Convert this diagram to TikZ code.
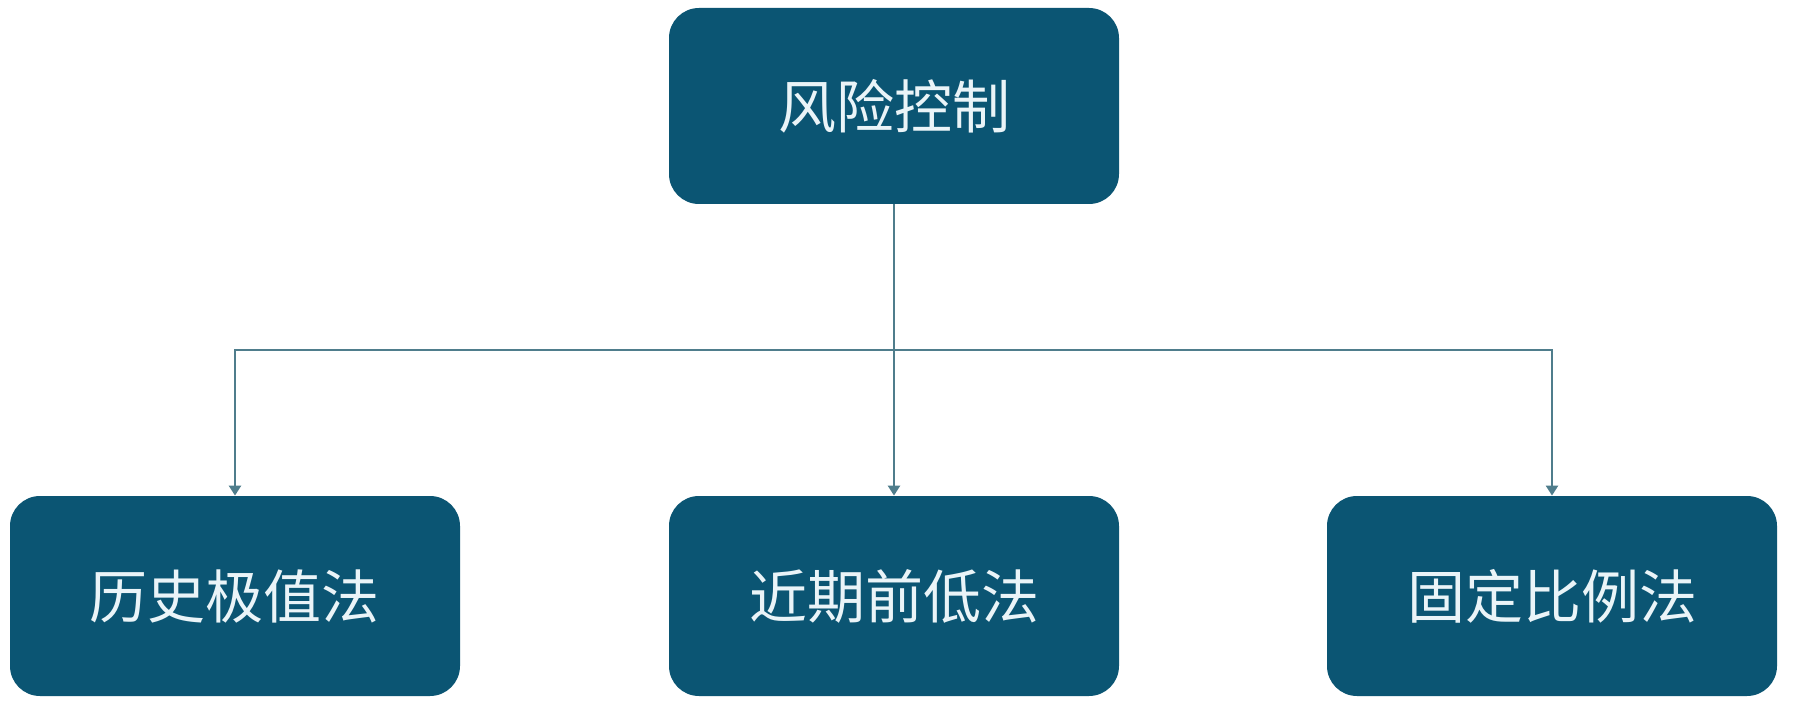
\documentclass[tikz,border=0pt]{standalone}
\usepackage{fontspec}
\newfontfamily\cjk{Noto Sans CJK SC}
\usetikzlibrary{arrows.meta}
\definecolor{boxfill}{HTML}{0B5573}
\definecolor{linecol}{HTML}{4F7D8C}
\definecolor{txtcol}{HTML}{EAF4F8}
\tikzset{
  box/.style={draw=none, fill=boxfill, rounded corners=15pt, minimum width=225pt, text=txtcol, font=\cjk\fontsize{29pt}{34pt}\selectfont, inner sep=0pt},
  conn/.style={draw=linecol, line width=1.2pt},
  arr/.style={conn, -{Triangle[width=6pt,length=5pt]}}
}
\begin{document}
\begin{tikzpicture}[x=0.5pt,y=-0.5pt]
\useasboundingbox[fill=white] (0,0) rectangle (1796,706);
\node[box, minimum height=98pt] (top) at (894,106) {风险控制};
\node[box, minimum height=100pt] (l) at (235,596) {历史极值法};
\node[box, minimum height=100pt] (m) at (894,596) {近期前低法};
\node[box, minimum height=100pt] (r) at (1552,596) {固定比例法};
\coordinate (bus) at (894,350);
\draw[conn] (top.south) -- (bus);
\draw[arr] (bus) -| (l.north);
\draw[arr] (bus) -- (m.north);
\draw[arr] (bus) -| (r.north);
\end{tikzpicture}
\end{document}
